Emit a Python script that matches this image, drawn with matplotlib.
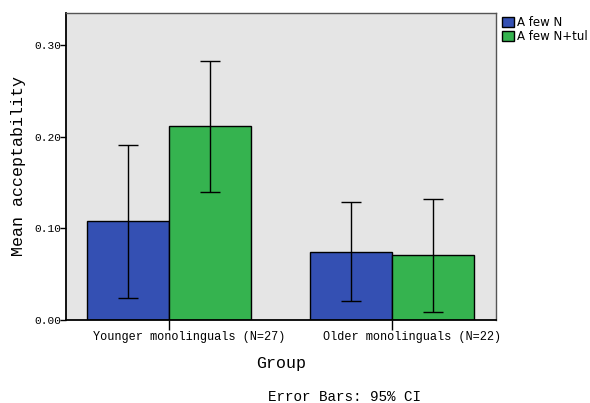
import numpy as np
import matplotlib.pyplot as plt
from matplotlib.transforms import ScaledTranslation

groups = ['Younger monolinguals (N=27)', 'Older monolinguals (N=22)']
series = ['A few N', 'A few N+tul']
means = [[0.1076, 0.0745], [0.2112, 0.0705]]
ci_low = [[0.024, 0.0204], [0.1392, 0.0087]]
ci_high = [[0.1908, 0.1287], [0.2828, 0.1323]]
colors = ['#3450b3', '#35b34f']

mono = 'Liberation Mono'

fig = plt.figure(figsize=(5.9, 4.03), dpi=100)
ax = fig.add_axes([66 / 590, 1 - 320 / 403, 430 / 590, 307 / 403])
ax.set_facecolor('#e5e5e5')

x = np.arange(len(groups))
w = 0.368
for i, name in enumerate(series):
    pos = x + (i - 0.5) * w
    m = np.array(means[i])
    err = [m - np.array(ci_low[i]), np.array(ci_high[i]) - m]
    ax.bar(pos, m, width=w, color=colors[i], edgecolor='black', linewidth=1.0, label=name, zorder=2)
    ax.errorbar(pos, m, yerr=err, fmt='none', ecolor='black', elinewidth=1.0,
                capsize=7.2, capthick=1.0, zorder=3)

ax.set_xlim(-0.462, 1.466)
ax.set_ylim(0, 0.335)
ax.set_yticks([0.0, 0.1, 0.2, 0.3])
ax.set_yticklabels(['0.00', '0.10', '0.20', '0.30'], fontfamily=mono, fontsize=8.1)
ax.set_xticks(x)
ax.set_xticklabels(groups, fontfamily=mono, fontsize=8.6)
ax.tick_params(axis='x', length=7, width=1, pad=1)
ax.tick_params(axis='y', length=4, width=1, pad=-1)

# SPSS puts the category labels a bit to the right of the tick
shift = ScaledTranslation(20 / 100, 0, fig.dpi_scale_trans)
for lab in ax.get_xticklabels():
    lab.set_transform(lab.get_transform() + shift)

for s in ['left', 'bottom']:
    ax.spines[s].set_color('black')
    ax.spines[s].set_linewidth(1.3)
for s in ['top', 'right']:
    ax.spines[s].set_color('#555555')
    ax.spines[s].set_linewidth(1.0)

ax.set_xlabel('Group', fontfamily=mono, fontsize=12, labelpad=9)
ax.set_ylabel('Mean acceptability', fontfamily=mono, fontsize=12, labelpad=6)

ax.legend(loc='upper left', bbox_to_anchor=(1.0, 1.01), frameon=False,
          prop={'family': 'DejaVu Sans', 'size': 8.5}, handlelength=1.0, handleheight=1.0,
          handletextpad=0.3, labelspacing=0.1, borderaxespad=0.3, borderpad=0.2)

fig.text(345 / 590, 1 - 401 / 403, 'Error Bars: 95% CI', fontfamily=mono, fontsize=10.3,
         ha='center', va='baseline')

fig.savefig('out.png', dpi=100)
